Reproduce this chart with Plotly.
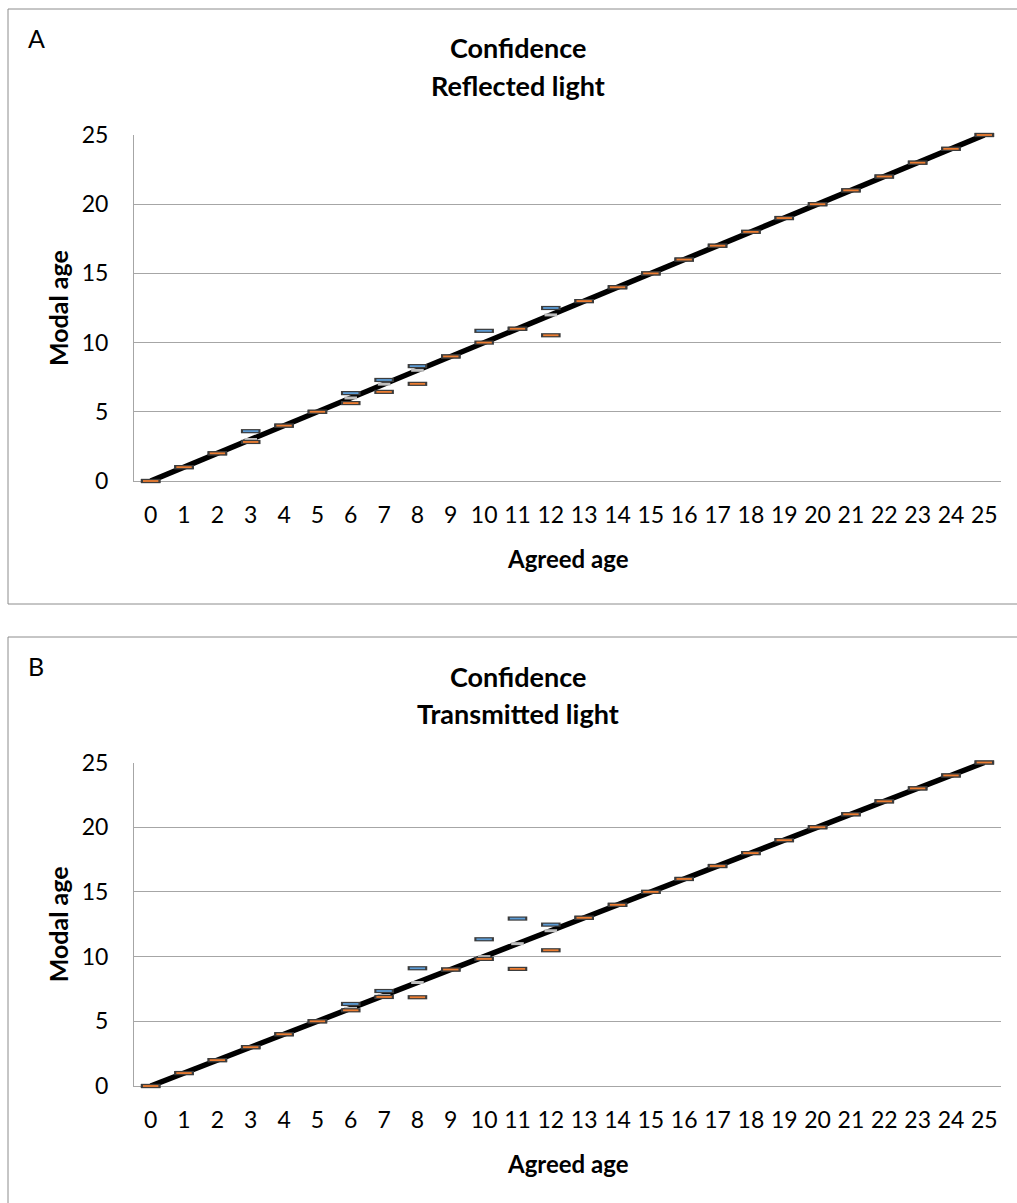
import plotly.graph_objects as go

W, H = 1017, 1203

# ---------------- data ----------------
agreed = list(range(0, 26))
tick_labels = [str(v) for v in agreed]
center_vals = [0, 1, 2, 3, 4, 5, 6, 7, 8, 9, 10, 11, 12, 13, 14, 15, 16, 17, 18, 19, 20, 21, 22, 23, 24, 25]

upper_A = [0, 1, 2, 3.6, 4, 5, 6.35, 7.3, 8.3, 9, 10.85, 11, 12.5, 13, 14, 15, 16, 17, 18, 19, 20, 21, 22, 23, 24, 25]
lower_A = [0, 1, 2, 2.82, 4, 5, 5.63, 6.44, 7.02, 9, 10.0, 11, 10.53, 13, 14, 15, 16, 17, 18, 19, 20, 21, 22, 23, 24, 25]

upper_B = [0, 1, 2, 3, 4, 5, 6.34, 7.34, 9.1, 9, 11.34, 12.94, 12.47, 13, 14, 15, 16, 17, 18, 19, 20, 21, 22, 23, 24, 25]
lower_B = [0, 1, 2, 3, 4, 5, 5.85, 6.88, 6.86, 9, 9.82, 9.05, 10.49, 13, 14, 15, 16, 17, 18, 19, 20, 21, 22, 23, 24, 25]

panel_letters = ["A", "B"]
titles = ["Confidence<br>Reflected light", "Confidence<br>Transmitted light"]
x_title = "Agreed age"
y_title = "Modal age"
y_ticks = [0, 5, 10, 15, 20, 25]

# ---------------- styling helpers ----------------
FONT = "Lato, Carlito, Calibri, sans-serif"
GRID = "#A6A6A6"
BLUE = "#5B9BD5"
ORANGE = "#ED7D31"
GREY = "#BFBFBF"
EDGE = "#3C3C3C"


def px_x(p):
    return p / W


def px_y(p):
    return 1 - p / H


fig = go.Figure()

panels = [
    dict(upper=upper_A, lower=lower_A, top=135, bottom=481, box_top=9, box_bottom=604,
         xlab_y=558, title_y1=48, title_y2=85, letter_y=38),
    dict(upper=upper_B, lower=lower_B, top=762.5, bottom=1086, box_top=637, box_bottom=1215,
         xlab_y=1163, title_y1=676, title_y2=713, letter_y=666),
]

plot_left, plot_right = 134, 1001

annotations = []
shapes = []

for i, p in enumerate(panels):
    xa = "x" if i == 0 else "x2"
    ya = "y" if i == 0 else "y2"

    # 1:1 line
    fig.add_trace(go.Scatter(x=agreed, y=center_vals, mode="lines",
                             line=dict(color="black", width=5.5), cliponaxis=False,
                             xaxis=xa, yaxis=ya, showlegend=False, hoverinfo="skip"))
    # centre (grey) marks
    fig.add_trace(go.Scatter(x=agreed, y=center_vals, mode="markers", cliponaxis=False,
                             marker=dict(symbol="line-ew", size=9, line=dict(color=GREY, width=3)),
                             xaxis=xa, yaxis=ya, showlegend=False))
    # upper (blue) and lower (orange) marks: border then fill
    for vals, col in ((p["upper"], BLUE), (p["lower"], ORANGE)):
        fig.add_trace(go.Scatter(x=agreed, y=vals, mode="markers", cliponaxis=False,
                                 marker=dict(symbol="line-ew", size=14, line=dict(color=EDGE, width=4.2)),
                                 xaxis=xa, yaxis=ya, showlegend=False))
        fig.add_trace(go.Scatter(x=agreed, y=vals, mode="markers", cliponaxis=False,
                                 marker=dict(symbol="line-ew", size=11, line=dict(color=col, width=1.8)),
                                 xaxis=xa, yaxis=ya, showlegend=False))

    dom_x = [px_x(plot_left), px_x(plot_right)]
    dom_y = [px_y(p["bottom"]), px_y(p["top"])]
    xkey = "xaxis" if i == 0 else "xaxis2"
    ykey = "yaxis" if i == 0 else "yaxis2"
    fig.update_layout(**{
        xkey: dict(domain=dom_x, anchor=ya, range=[-0.5, 25.5], tickmode="array",
                   tickvals=agreed, ticktext=tick_labels, showgrid=False, zeroline=False,
                   showline=True, linecolor=GRID, linewidth=1, ticks="",
                   ticklabelstandoff=13, automargin=False, layer="below traces",
                   tickfont=dict(family=FONT, size=23, color="black")),
        ykey: dict(domain=dom_y, anchor=xa, range=[0, 25], tickmode="array", tickvals=y_ticks,
                   showgrid=True, gridcolor=GRID, gridwidth=1, zeroline=False,
                   showline=True, linecolor=GRID, linewidth=1, ticks="",
                   ticklabelstandoff=20, automargin=False, layer="below traces",
                   tickfont=dict(family=FONT, size=23, color="black")),
    })

    # panel box
    shapes.append(dict(type="rect", xref="paper", yref="paper",
                       x0=px_x(8), x1=px_x(1030), y0=px_y(p["box_bottom"]), y1=px_y(p["box_top"]),
                       line=dict(color="#8C8C8C", width=1), fillcolor="rgba(0,0,0,0)", layer="below"))

    # panel letter
    annotations.append(dict(text=panel_letters[i], xref="paper", yref="paper",
                            x=px_x(26), y=px_y(p["letter_y"]), xanchor="left", yanchor="middle",
                            showarrow=False, font=dict(family=FONT, size=25, color="black")))
    # title lines
    t1, t2 = titles[i].split("<br>")
    for txt, yy in ((t1, p["title_y1"]), (t2, p["title_y2"])):
        annotations.append(dict(text="<b>%s</b>" % txt, xref="paper", yref="paper",
                                x=px_x(518), y=px_y(yy), xanchor="center", yanchor="middle",
                                showarrow=False, font=dict(family=FONT, size=27, color="black")))
    # axis titles
    annotations.append(dict(text="<b>%s</b>" % x_title, xref="paper", yref="paper",
                            x=px_x((plot_left + plot_right) / 2), y=px_y(p["xlab_y"]),
                            xanchor="center", yanchor="middle", showarrow=False,
                            font=dict(family=FONT, size=24, color="black")))
    annotations.append(dict(text="<b>%s</b>" % y_title, xref="paper", yref="paper",
                            x=px_x(58), y=px_y((p["top"] + p["bottom"]) / 2), textangle=-90,
                            xanchor="center", yanchor="middle", showarrow=False,
                            font=dict(family=FONT, size=25, color="black")))

fig.update_layout(width=W, height=H, margin=dict(l=0, r=0, t=0, b=0, autoexpand=False),
                  paper_bgcolor="white", plot_bgcolor="white",
                  annotations=annotations, shapes=shapes, showlegend=False)

fig.write_html("out.html")
